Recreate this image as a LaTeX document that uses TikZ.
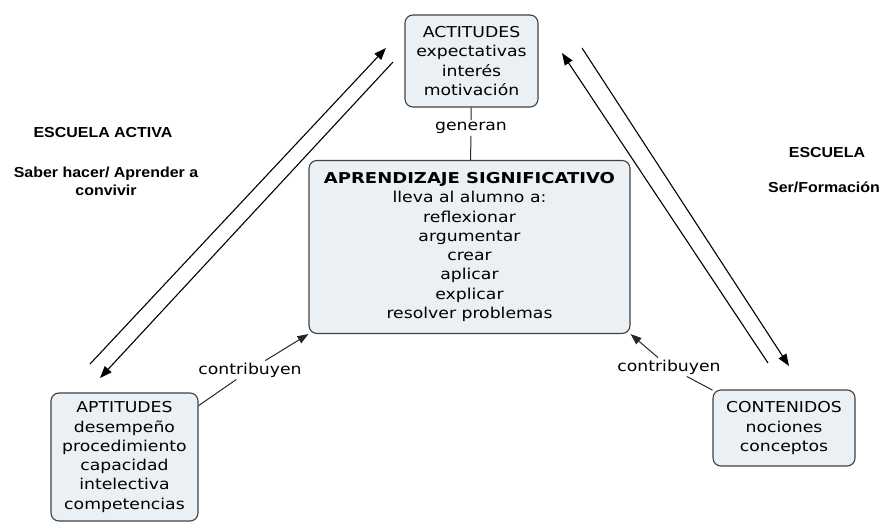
\documentclass[tikz,border=0pt]{standalone}
\usepackage{fontspec}
\setmainfont{DejaVu Sans}[FakeStretch=1.15, BoldFeatures={FakeStretch=1.2}]
\newfontfamily\arialf{Liberation Sans}[FakeStretch=1.1]
\usetikzlibrary{arrows.meta}
\begin{document}
\begin{tikzpicture}[x=1pt,y=-1pt,
  concept/.style={draw=black!75, line width=1.1pt, fill=boxfill, rounded corners=8pt,
    align=center, inner sep=2pt, font=\fontsize{15}{19.3}\selectfont},
  lbl/.style={font=\fontsize{15}{19.3}\selectfont, inner sep=2pt},
  side/.style={font=\arialf\bfseries\fontsize{14.5}{18}\selectfont, align=center, inner sep=0pt},
  link/.style={draw=black!85, line width=1pt},
  arr/.style={link, -{Triangle[length=11pt,width=8pt]}},
  diag/.style={draw=black, line width=1.1pt, -{Triangle[length=12pt,width=9pt]}}]
\definecolor{boxfill}{HTML}{EAF0F3}
\useasboundingbox (0,0) rectangle (885,524);

\node[concept, minimum width=133pt, minimum height=92pt] (act) at (471.5,61)
  {ACTITUDES\\expectativas\\interés\\motivación};
\node[lbl] (gen) at (471,128) {generan};
\node[concept, minimum width=321pt, minimum height=173pt] (apr) at (469.5,247)
  {\textbf{APRENDIZAJE SIGNIFICATIVO}\\lleva al alumno a:\\reflexionar\\argumentar\\crear\\aplicar\\explicar\\resolver problemas};
\node[concept, minimum width=147pt, minimum height=128pt] (apt) at (124.5,457)
  {APTITUDES\\desempeño\\procedimiento\\capacidad\\intelectiva\\competencias};
\node[concept, minimum width=142pt, minimum height=76pt] (con) at (784,428)
  {CONTENIDOS\\nociones\\conceptos};
\node[lbl] (c1) at (250,370) {contribuyen};
\node[lbl] (c2) at (669,367) {contribuyen};

\node[side] (ea) at (103,133) {ESCUELA ACTIVA};
\node[side] (sh) at (106,181) {Saber hacer/ Aprender a\\convivir};
\node[side] (es) at (827,153) {ESCUELA};
\node[side] (sf) at (824,187) {Ser/Formación};

\draw[link] (act) -- (gen);
\draw[link] (gen) -- (apr);
\draw[link] (c1) -- (apt);
\draw[arr] (c1) -- (apr.south west);
\draw[link] (c2) -- (con);
\draw[arr] (c2) -- (apr.south east);

\coordinate (l1s) at (90,364);
\coordinate (l1e) at (386,48);
\coordinate (l2s) at (393,62);
\coordinate (l2e) at (100,378);
\coordinate (r1s) at (768,363);
\coordinate (r1e) at (562,53);
\coordinate (r2s) at (582,48);
\coordinate (r2e) at (789,366);
\draw[diag] (l1s) -- (l1e);
\draw[diag] (l2s) -- (l2e);
\draw[diag] (r1s) -- (r1e);
\draw[diag] (r2s) -- (r2e);
\end{tikzpicture}
\end{document}
